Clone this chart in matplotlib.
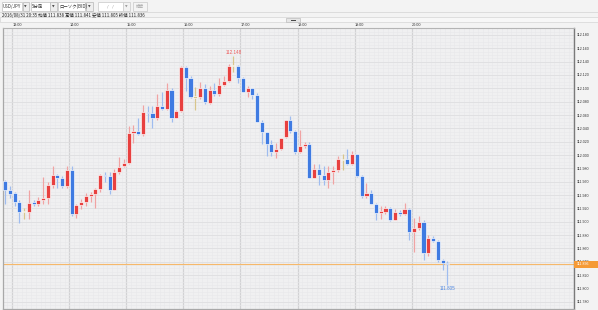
import matplotlib
matplotlib.use('Agg')
import matplotlib.pyplot as plt
import matplotlib.transforms as mtrans
from matplotlib.patches import Rectangle
from matplotlib.lines import Line2D
import numpy as np
import pandas as pd

plt.rcParams['font.family'] = ['Noto Sans CJK JP', 'DejaVu Sans']

# ---------------- data ----------------
pair_label = 'USD/JPY'
timeframe_label = '5分足'
chart_type_label = 'ローソク(BID)'
search_label = '検索'
start_time = '2016-08-31 12:50'

opens = [111.961, 111.948, 111.943, 111.929, 111.915, 111.914, 111.929, 111.926, 111.932, 111.935,
         111.955, 111.970, 111.965, 111.953, 111.977, 111.911, 111.925, 111.930, 111.939, 111.941,
         111.949, 111.970, 111.969, 111.948, 111.975, 111.983, 111.988, 112.033, 112.036, 112.032,
         112.065, 112.063, 112.056, 112.074, 112.069, 112.097, 112.056, 112.066, 112.132, 112.116,
         112.087, 112.087, 112.100, 112.078, 112.097, 112.091, 112.105, 112.111, 112.134, 112.134,
         112.116, 112.095, 112.100, 112.090, 112.050, 112.034, 112.016, 112.004, 112.009, 112.027,
         112.052, 112.036, 112.004, 112.014, 112.017, 111.966, 111.979, 111.970, 111.962, 111.975,
         111.977, 111.993, 111.994, 111.987, 112.002, 111.969, 111.939, 111.943, 111.927, 111.913,
         111.915, 111.920, 111.903, 111.915, 111.911, 111.919, 111.885, 111.891, 111.899, 111.853,
         111.876, 111.871, 111.843, 111.838]
highs = [111.963, 111.953, 111.945, 111.932, 111.921, 111.948, 111.933, 111.937, 111.967, 111.960,
         111.983, 111.972, 111.969, 111.983, 111.983, 111.926, 111.934, 111.943, 111.944, 111.951,
         111.972, 111.974, 111.974, 111.979, 111.997, 111.994, 112.043, 112.045, 112.055, 112.075,
         112.074, 112.074, 112.091, 112.094, 112.108, 112.101, 112.067, 112.134, 112.134, 112.118,
         112.102, 112.109, 112.106, 112.103, 112.108, 112.116, 112.118, 112.136, 112.148, 112.135,
         112.117, 112.103, 112.101, 112.093, 112.053, 112.035, 112.023, 112.018, 112.026, 112.053,
         112.058, 112.038, 112.037, 112.019, 112.019, 111.987, 111.987, 111.984, 111.984, 111.984,
         111.999, 112.001, 112.009, 112.006, 112.002, 111.970, 111.958, 111.948, 111.928, 111.924,
         111.924, 111.922, 111.919, 111.917, 111.928, 111.920, 111.906, 111.909, 111.902, 111.880,
         111.878, 111.872, 111.844, 111.841]
lows = [111.927, 111.936, 111.924, 111.898, 111.904, 111.904, 111.924, 111.924, 111.926, 111.926,
        111.951, 111.951, 111.950, 111.950, 111.909, 111.905, 111.919, 111.924, 111.930, 111.920,
        111.945, 111.959, 111.941, 111.947, 111.972, 111.982, 111.987, 112.018, 112.030, 112.029,
        112.050, 112.040, 112.052, 112.067, 112.068, 112.049, 112.055, 112.065, 112.096, 112.086,
        112.067, 112.084, 112.077, 112.077, 112.089, 112.089, 112.104, 112.110, 112.125, 112.108,
        112.094, 112.087, 112.084, 112.049, 112.017, 111.999, 111.998, 111.996, 112.008, 112.026,
        112.033, 112.001, 112.003, 112.011, 111.965, 111.965, 111.955, 111.955, 111.950, 111.956,
        111.975, 111.977, 111.985, 111.985, 111.967, 111.935, 111.935, 111.926, 111.902, 111.904,
        111.911, 111.901, 111.902, 111.909, 111.910, 111.872, 111.855, 111.887, 111.842, 111.848,
        111.870, 111.840, 111.828, 111.805]
closes = [111.947, 111.942, 111.929, 111.914, 111.915, 111.928, 111.926, 111.932, 111.935, 111.955,
          111.970, 111.965, 111.953, 111.977, 111.911, 111.925, 111.930, 111.939, 111.941, 111.949,
          111.970, 111.969, 111.948, 111.975, 111.982, 111.988, 112.033, 112.036, 112.032, 112.065,
          112.063, 112.056, 112.074, 112.069, 112.097, 112.056, 112.066, 112.132, 112.116, 112.087,
          112.087, 112.100, 112.079, 112.097, 112.091, 112.105, 112.111, 112.134, 112.134, 112.116,
          112.095, 112.100, 112.090, 112.050, 112.034, 112.016, 112.004, 112.009, 112.025, 112.052,
          112.036, 112.004, 112.014, 112.017, 111.966, 111.979, 111.970, 111.963, 111.975, 111.978,
          111.994, 111.993, 111.987, 112.002, 111.969, 111.939, 111.943, 111.927, 111.913, 111.916,
          111.920, 111.903, 111.915, 111.911, 111.919, 111.885, 111.891, 111.899, 111.853, 111.876,
          111.871, 111.842, 111.838, 111.836]

hour_ticks = [13, 14, 15, 16, 17, 18, 19, 20]
hour_labels = ['13:00', '14:00', '15:00', '16:00', '17:00', '18:00', '19:00', '20:00']
price_ticks = [111.780, 111.800, 111.820, 111.840, 111.860, 111.880, 111.900, 111.920,
               111.940, 111.960, 111.980, 112.000, 112.020, 112.040, 112.060, 112.080,
               112.100, 112.120, 112.140, 112.160, 112.180]

# ---------------- style ----------------
UP = '#e8403f'
DOWN = '#3f7be2'
UP_WICK = '#f0a3a3'
DOWN_WICK = '#9fbcef'
DOJI = '#d8c58c'

W, H = 598, 310
fig = plt.figure(figsize=(W / 100, H / 100), dpi=100)
fig.patch.set_facecolor('#f3f3f3')

def fx(px):
    return px / W

def fy(py):
    return 1 - py / H

def frect(x0, y0, x1, y1, fc, ec=None, lw=0.6, z=1):
    r = Rectangle((fx(x0), fy(y1)), fx(x1) - fx(x0), fy(y0) - fy(y1),
                  transform=fig.transFigure, facecolor=fc,
                  edgecolor=ec if ec else 'none', linewidth=lw, zorder=z)
    fig.add_artist(r)

def fline(x0, y0, x1, y1, c, lw=0.6):
    fig.add_artist(Line2D([fx(x0), fx(x1)], [fy(y0), fy(y1)], transform=fig.transFigure,
                          color=c, lw=lw))

# header controls
frect(1.5, 2.5, 21.5, 10.5, 'white', '#c8c8c8')
fig.text(fx(3), fy(6.6), pair_label, fontsize=3.2, va='center', ha='left', color='#333333')
frect(22.5, 2.5, 28.5, 10.5, '#eeeeee', '#c0c0c0')
fig.text(fx(25.5), fy(6.6), '▼', fontsize=2.4, va='center', ha='center', color='#444444',
         family='DejaVu Sans')
frect(30.5, 2.5, 49.5, 10.5, 'white', '#c8c8c8')
fig.text(fx(32), fy(6.6), timeframe_label, fontsize=3.2, va='center', ha='left', color='#333333')
frect(50.0, 2.5, 56.5, 10.5, '#eeeeee', '#c0c0c0')
fig.text(fx(53.2), fy(6.6), '▼', fontsize=2.4, va='center', ha='center', color='#444444',
         family='DejaVu Sans')
frect(57.5, 2.5, 85.5, 10.5, 'white', '#c8c8c8')
fig.text(fx(59), fy(6.6), chart_type_label, fontsize=3.2, va='center', ha='left', color='#333333')
frect(86.0, 2.5, 92.5, 10.5, '#eeeeee', '#c0c0c0')
fig.text(fx(89.2), fy(6.6), '▼', fontsize=2.4, va='center', ha='center', color='#444444',
         family='DejaVu Sans')
frect(98.0, 2.5, 123.0, 10.5, 'white', '#d0d0d0')
fig.text(fx(110.5), fy(6.6), '/    /', fontsize=3.0, va='center', ha='center', color='#888888')
frect(123.0, 2.5, 129.5, 10.5, '#f2f2f2', '#d0d0d0')
fig.text(fx(126.2), fy(6.6), '▼', fontsize=2.4, va='center', ha='center', color='#999999',
         family='DejaVu Sans')
frect(132.5, 2.5, 147.0, 10.5, '#f4f4f4', '#d0d0d0')
fig.text(fx(139.7), fy(6.6), search_label, fontsize=3.0, va='center', ha='center', color='#aaaaaa')

fline(0, 12.3, W, 12.3, '#d8d8d8')

times = pd.date_range(start_time, periods=len(opens), freq='5min')
last = times[-1]
info = (f"{last:%Y/%m/%d %H:%M} 始値 {opens[-1]:.3f} 高値 {highs[-1]:.3f} "
        f"安値 {lows[-1]:.3f} 終値 {closes[-1]:.3f}")
fig.text(fx(2.5), fy(15.2), info, fontsize=3.2, va='center', ha='left', color='#222222')

# scrollbar strip
frect(0, 17.3, W, 22.3, '#f7f7f7', '#d4d4d4', lw=0.5)
frect(285.5, 17.5, 300.0, 22.1, '#e6e6e6', '#bdbdbd', lw=0.5)
fline(291.0, 19.8, 294.5, 19.8, '#444444', lw=0.7)

# ---------------- chart ----------------
x = np.array([t.hour + (t.minute + 2.5) / 60.0 for t in times])
o = np.array(opens); h = np.array(highs); l = np.array(lows); c = np.array(closes)

ax = fig.add_axes([fx(2.7), fy(308.5), fx(573.5) - fx(2.7), fy(28.3) - fy(308.5)])
ax.set_facecolor('#f0f0f1')
ax.set_xlim(12 + 50.5 / 60, 22 + 50.2 / 60)
ax.set_ylim(111.7724, 112.1815)

ax.set_xticks(hour_ticks)
ax.set_xticks(np.arange(12 + 50 / 60, 22.9, 5 / 60), minor=True)
ax.set_yticks(price_ticks)
ax.set_yticks(np.arange(111.77, 112.19, 0.005), minor=True)
ax.grid(which='minor', color='#e8e8ea', lw=0.4, zorder=0)
ax.grid(which='major', axis='y', color='#dedee0', lw=0.6, zorder=0)
ax.grid(which='major', axis='x', color='#d2d2d4', lw=0.9, zorder=0)
ax.set_axisbelow(True)

ax.xaxis.tick_top()
ax.set_xticklabels(hour_labels, ha='left', fontsize=2.7, color='#333333',
                   family='Liberation Sans')
ax.tick_params(axis='x', which='both', length=0, pad=0.6)
ax.yaxis.tick_right()
ax.set_yticklabels([f'{v:.3f}' for v in price_ticks], fontsize=2.6, color='#333333',
                   family='Liberation Sans')
ax.tick_params(axis='y', which='both', length=0, pad=2.4)

for s in ['left', 'bottom']:
    ax.spines[s].set_color('#a8a8a8')
    ax.spines[s].set_linewidth(0.9)
ax.spines['right'].set_color('#7a7a7a')
ax.spines['right'].set_linewidth(1.0)
ax.spines['top'].set_color('#b4b4b4')
ax.spines['top'].set_linewidth(0.8)

up = c > o
down = c < o
wick_colors = np.where(up, UP_WICK, np.where(down, DOWN_WICK, DOJI))
body_colors = np.where(up, UP, np.where(down, DOWN, DOJI))

ax.vlines(x, l, h, colors=wick_colors, lw=0.9, zorder=2)

bw = 5 / 60 * 0.86
min_h = 0.0016
heights = np.abs(c - o)
bottoms = np.minimum(o, c)
adj_h = np.maximum(heights, min_h)
adj_b = bottoms - (adj_h - heights) / 2
ax.bar(x, adj_h, bottom=adj_b, width=bw, color=body_colors, edgecolor='white',
       linewidth=0.45, zorder=3)

# current price line + label
ax.axhline(c[-1], color='#f6b86a', lw=0.8, zorder=1.5)
bt = mtrans.blended_transform_factory(ax.transAxes, ax.transData)
lbl_w = (W - 573.5) / (573.5 - 2.7)
lbl_h = 7.3 / 685
ax.add_patch(Rectangle((1.0, c[-1] - lbl_h / 2), lbl_w, lbl_h, transform=bt,
                       facecolor='#f59a36', edgecolor='none', clip_on=False, zorder=5))
ax.text(1.0 + 3.2 / (573.5 - 2.7), c[-1], f'{c[-1]:.3f}', transform=bt, ha='left',
        va='center', fontsize=2.6, color='white', family='Liberation Sans', zorder=6,
        clip_on=False)

# high / low annotations
ih = int(np.argmax(h))
il = int(np.argmin(l))
ax.annotate(f'{h[ih]:.3f}', (x[ih], h[ih]), xytext=(0, 0.6), textcoords='offset points',
            ha='center', va='bottom', fontsize=3.3, color='#ee5a5a', family='Liberation Sans')
ax.annotate(f'{l[il]:.3f}', (x[il], l[il]), xytext=(0, -0.6), textcoords='offset points',
            ha='center', va='top', fontsize=3.3, color='#4d86e0', family='Liberation Sans')

fig.savefig('out.png', dpi=100, facecolor=fig.get_facecolor())
